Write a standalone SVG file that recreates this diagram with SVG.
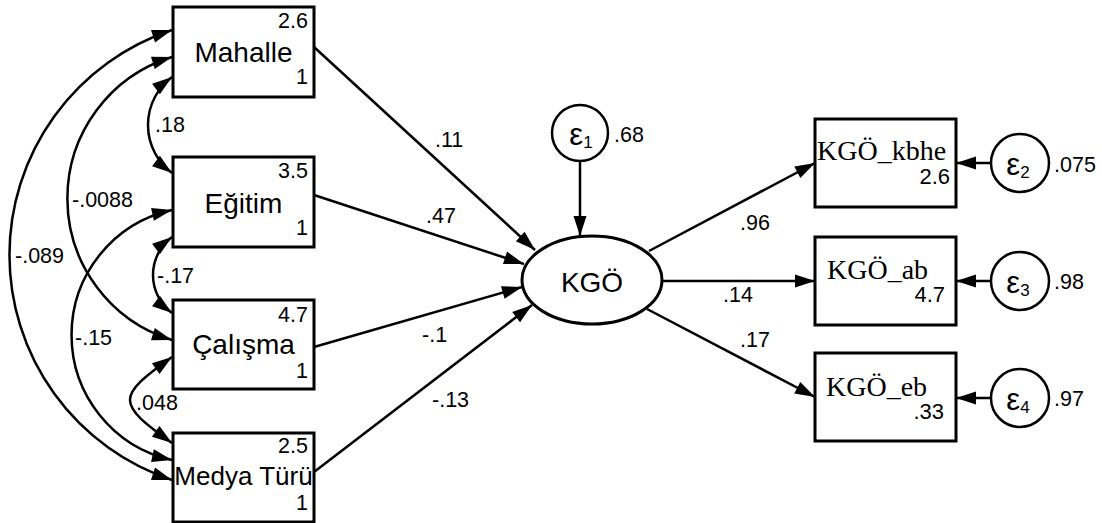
<svg xmlns="http://www.w3.org/2000/svg" width="1102" height="523" viewBox="0 0 1102 523">
<style>
.box{fill:#fff;stroke:#000;stroke-width:3}
.circ{fill:#fff;stroke:#000;stroke-width:2.5}
.ln{fill:none;stroke:#000;stroke-width:2.5}
.lbl{font-family:"Liberation Sans",Arial,sans-serif;font-size:28px;fill:#000}
.num{font-family:"Liberation Sans",Arial,sans-serif;font-size:21.5px;fill:#000}
.rnum{font-family:"Liberation Sans",Arial,sans-serif;font-size:22px;fill:#000;text-anchor:end}
.ser{font-family:"Liberation Serif","Times New Roman",serif;font-size:28px;fill:#000}
.eps{font-family:"Liberation Sans",Arial,sans-serif;font-size:31px;fill:#000;text-anchor:middle}
.sub{font-size:17px}
.end{text-anchor:end}
.mid{text-anchor:middle}
</style>
<defs>
<marker id="ah" markerUnits="userSpaceOnUse" markerWidth="20" markerHeight="13" refX="20" refY="6.5" orient="auto-start-reverse" viewBox="0 0 20 13" overflow="visible">
<path d="M0,0 L20,6.5 L0,13 z" fill="#000"/>
</marker>
</defs>
<rect width="1102" height="523" fill="#fff"/>

<g id="connectors">
<path class="ln" d="M172,30 A237,237 0 0 0 172,480" marker-start="url(#ah)" marker-end="url(#ah)"/>
<path class="ln" d="M172,57 A148,148 0 0 0 172,340" marker-start="url(#ah)" marker-end="url(#ah)"/>
<path class="ln" d="M172,210 A128,128 0 0 0 172,460" marker-start="url(#ah)" marker-end="url(#ah)"/>
<path class="ln" d="M172,77 A60,60 0 0 0 172,173" marker-start="url(#ah)" marker-end="url(#ah)"/>
<path class="ln" d="M172,237 A47.5,47.5 0 0 0 172,313" marker-start="url(#ah)" marker-end="url(#ah)"/>
<path class="ln" d="M172,357 C116,397 116,403 172,443" marker-start="url(#ah)" marker-end="url(#ah)"/>
<line class="ln" x1="314" y1="47" x2="535" y2="250" marker-end="url(#ah)"/>
<line class="ln" x1="314" y1="195" x2="524" y2="264" marker-end="url(#ah)"/>
<line class="ln" x1="314" y1="347" x2="522" y2="287" marker-end="url(#ah)"/>
<line class="ln" x1="314" y1="472" x2="532" y2="305" marker-end="url(#ah)"/>
<line class="ln" x1="580" y1="161" x2="580" y2="236" marker-end="url(#ah)"/>
<line class="ln" x1="649" y1="251" x2="815" y2="163" marker-end="url(#ah)"/>
<line class="ln" x1="662" y1="281" x2="815" y2="281" marker-end="url(#ah)"/>
<line class="ln" x1="647" y1="309" x2="815" y2="397" marker-end="url(#ah)"/>
<line class="ln" x1="991" y1="163" x2="956" y2="163" marker-end="url(#ah)"/>
<line class="ln" x1="991" y1="281" x2="956" y2="281" marker-end="url(#ah)"/>
<line class="ln" x1="991" y1="398" x2="956" y2="398" marker-end="url(#ah)"/>
<text class="num" x="15" y="263">-.089</text>
<text class="num" x="72" y="207">-.0088</text>
<text class="num" x="155" y="132">.18</text>
<text class="num" x="157" y="283">-.17</text>
<text class="num" x="75" y="345">-.15</text>
<text class="num" x="136" y="410">.048</text>
<text class="num" x="435" y="147">.11</text>
<text class="num" x="426" y="223">.47</text>
<text class="num" x="422" y="342">-.1</text>
<text class="num" x="432" y="407">-.13</text>
<text class="num" x="740" y="230">.96</text>
<text class="num" x="723" y="302">.14</text>
<text class="num" x="740" y="347">.17</text>
</g>

<g id="mahalle">
<rect class="box" x="173" y="7" width="141" height="90"/>
<text class="lbl mid" x="243.5" y="62">Mahalle</text>
<text class="num end" x="308" y="28">2.6</text>
<text class="num end" x="308" y="84">1</text>
</g>
<g id="egitim">
<rect class="box" x="173" y="157" width="141" height="90"/>
<text class="lbl mid" x="243.5" y="213">Eğitim</text>
<text class="num end" x="308" y="178">3.5</text>
<text class="num end" x="308" y="235">1</text>
</g>
<g id="calisma">
<rect class="box" x="173" y="300" width="141" height="89"/>
<text class="lbl mid" x="243.5" y="354">Çalışma</text>
<text class="num end" x="308" y="322">4.7</text>
<text class="num end" x="308" y="378">1</text>
</g>
<g id="medya">
<rect class="box" x="173" y="433" width="141" height="89"/>
<text class="lbl mid" x="243.5" y="485" style="font-size:26px">Medya Türü</text>
<text class="num end" x="308" y="453">2.5</text>
<text class="num end" x="308" y="510">1</text>
</g>

<g id="kgo">
<ellipse cx="592" cy="280" rx="70" ry="44" fill="#fff" stroke="#000" stroke-width="3"/>
<text class="lbl mid" x="592" y="292">KGÖ</text>
</g>
<g id="e1">
<circle class="circ" cx="580" cy="133" r="28"/>
<text class="eps" x="581" y="145">ε<tspan class="sub" dy="3">1</tspan></text>
<text class="num" x="614" y="142">.68</text>
</g>

<g id="kgo_kbhe">
<rect class="box" x="815" y="119" width="141" height="88"/>
<text class="ser" x="817" y="160">KGÖ_kbhe</text>
<text class="rnum" x="950" y="184">2.6</text>
</g>
<g id="kgo_ab">
<rect class="box" x="815" y="237" width="141" height="88"/>
<text class="ser" x="827" y="279">KGÖ_ab</text>
<text class="rnum" x="945" y="302">4.7</text>
</g>
<g id="kgo_eb">
<rect class="box" x="815" y="353" width="141" height="88"/>
<text class="ser" x="826" y="396">KGÖ_eb</text>
<text class="rnum" x="944" y="419">.33</text>
</g>

<g id="e2">
<circle class="circ" cx="1020" cy="163" r="29"/>
<text class="eps" x="1018" y="175">ε<tspan class="sub" dy="3">2</tspan></text>
<text class="num" x="1054" y="172">.075</text>
</g>
<g id="e3">
<circle class="circ" cx="1020" cy="281" r="29"/>
<text class="eps" x="1018" y="293">ε<tspan class="sub" dy="3">3</tspan></text>
<text class="num" x="1054" y="289">.98</text>
</g>
<g id="e4">
<circle class="circ" cx="1020" cy="398" r="29"/>
<text class="eps" x="1018" y="410">ε<tspan class="sub" dy="3">4</tspan></text>
<text class="num" x="1054" y="406">.97</text>
</g>
</svg>
